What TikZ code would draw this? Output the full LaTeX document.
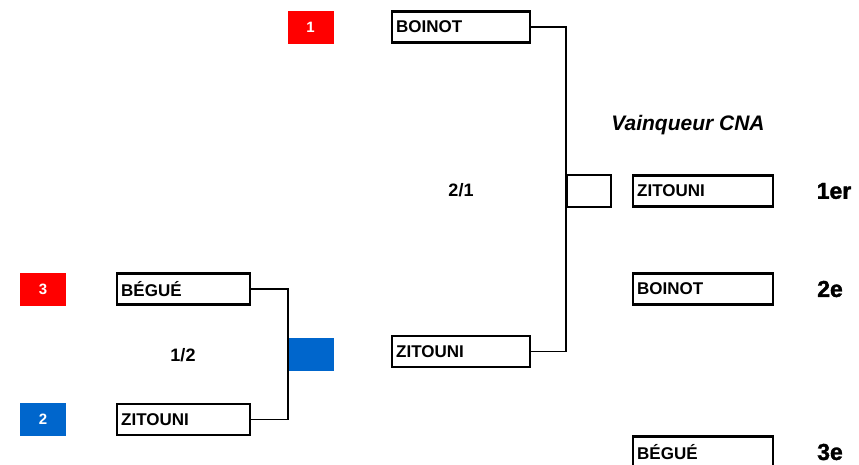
\documentclass[tikz,border=0pt]{standalone}
\usepackage{fontspec}
\setmainfont{Liberation Sans}
\newfontfamily\heavyfont{Liberation Sans Bold}[FakeBold=1.6]
\definecolor{seedred}{RGB}{255,0,0}
\definecolor{seedblue}{RGB}{0,102,204}
\begin{document}
\begin{tikzpicture}[
  x=1pt, y=-1pt,
  namebox/.style={rectangle, draw, line width=2.4pt, minimum height=31pt, inner xsep=4pt, text width=#1, align=left, font=\bfseries\fontsize{17}{20}\selectfont},
  namebox/.default=129.6pt,
  seedbox/.style={rectangle, minimum width=46pt, minimum height=33pt, inner sep=0pt, text=white, font=\bfseries\fontsize{15}{18}\selectfont},
  link/.style={line width=1.5pt},
  place/.style={font=\heavyfont\fontsize{23}{26}\selectfont},
  score/.style={font=\bfseries\fontsize{18}{20}\selectfont}
]
\useasboundingbox (0,0) rectangle (859,464);

% Semi-final
\node[namebox=124.6pt] (begue) at (183.5,289) {BÉGUÉ};
\node[namebox=124.6pt, below of=begue, node distance=130.5pt] (zitouni) {ZITOUNI};
\node[seedbox, fill=seedred, left of=begue, node distance=140.5pt] (seed3) {3};
\node[seedbox, fill=seedblue, left of=zitouni, node distance=140.5pt] (seed2) {2};
\node[seedbox, fill=seedblue] (semiwin) at (311,354) {};

\draw[link] (begue.east) -| (semiwin.west |- zitouni.east) -- (zitouni.east);

% Final
\node[namebox] (boinot) at (461,27) {BOINOT};
\node[namebox] (finalist) at (461,351.5) {ZITOUNI};
\node[seedbox, fill=seedred, left of=boinot, node distance=150.5pt] (seed1) {1};
\node[rectangle, draw, line width=2.4pt, minimum width=44pt, minimum height=32pt] (finalwin) at (589,191) {};

\draw[link] (boinot.east) -| (finalwin.west |- finalist.east) -- (finalist.east);

% Ranking
\node[namebox=131.6pt] (first) at (703,191) {ZITOUNI};
\node[namebox=131.6pt, below of=first, node distance=98pt] (second) {BOINOT};
\node[namebox=131.6pt, below of=second, node distance=163pt] (third) {BÉGUÉ};
\node[right of=first, node distance=131pt, place] (firstlabel) {1er};
\node[right of=second, node distance=127pt, place] (secondlabel) {2e};
\node[right of=third, node distance=127pt, place] (thirdlabel) {3e};

% Annotations
\node[score] (semiscore) at (183,355) {1/2};
\node[score] (finalscore) at (461,190) {2/1};
\node[font=\bfseries\itshape\fontsize{21}{24}\selectfont] (title) at (688,125) {Vainqueur CNA};
\end{tikzpicture}
\end{document}
